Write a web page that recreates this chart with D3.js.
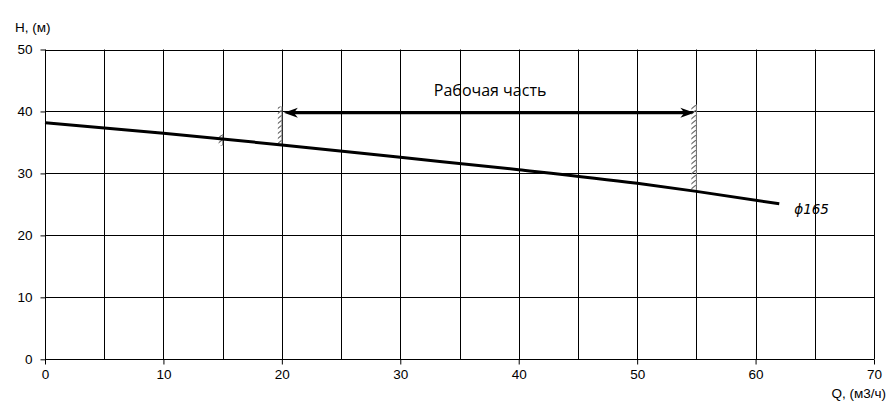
<!DOCTYPE html>
<html><head><meta charset="utf-8">
<script src="https://cdn.jsdelivr.net/npm/d3@7"></script>
<style>body{margin:0;background:#fff}svg{display:block}</style>
</head><body>
<script>
const qTicks = [0,10,20,30,40,50,60,70];
const hTicks = [0,10,20,30,40,50];
const curveQ = [0,10,20,30,40,50,55,62];
const curveH = [38.2,36.5,34.6,32.6,30.6,28.4,27.1,25.1];
const workRange = [20,55];
const workH = 39.8;
const curveLabel = "ϕ165";
const workLabel = "Рабочая часть";

const W=892,H=407;
const svg=d3.select("body").append("svg").attr("width",W).attr("height",H);
const x=d3.scaleLinear().domain([0,70]).range([45,874]);
const y=d3.scaleLinear().domain([0,50]).range([359.3,49.5]);
const g=svg.append("g");
// grid
const vg=d3.range(0,71,5), hg=hTicks;
g.selectAll(".vg").data(vg).enter().append("line")
 .attr("x1",d=>Math.round(x(d))+0.5).attr("x2",d=>Math.round(x(d))+0.5)
 .attr("y1",y(50)).attr("y2",y(0)).attr("stroke","#000").attr("stroke-width",1);
g.selectAll(".hg").data(hg).enter().append("line")
 .attr("y1",d=>Math.round(y(d))+0.5).attr("y2",d=>Math.round(y(d))+0.5)
 .attr("x1",x(0)).attr("x2",x(70)).attr("stroke","#000").attr("stroke-width",1);
// axes
const xa=svg.append("g").attr("transform",`translate(0,${Math.round(y(0))+0.5})`)
 .call(d3.axisBottom(x).tickValues(qTicks).tickSize(5).tickPadding(5));
const ya=svg.append("g").attr("transform",`translate(${Math.round(x(0))+0.5},0)`)
 .call(d3.axisLeft(y).tickValues(hTicks).tickSize(5).tickPadding(8));
[xa,ya].forEach(a=>{a.select(".domain").remove();
 a.selectAll("text").attr("font-family","Liberation Sans, Arial").attr("font-size",13.5).attr("fill","#000");
 a.selectAll("line").attr("stroke","#000");});
svg.append("text").attr("x",15).attr("y",32).text("H, (м)").attr("font-family","Liberation Sans, Arial").attr("font-size",13.5);
svg.append("text").attr("x",886).attr("y",398).attr("text-anchor","end").text("Q, (м3/ч)").attr("font-family","Liberation Sans, Arial").attr("font-size",13.5);

// hatch pattern
const defs=svg.append("defs");
const pat=defs.append("pattern").attr("id","hatch").attr("patternUnits","userSpaceOnUse").attr("width",6).attr("height",5);
pat.append("line").attr("x1",0).attr("y1",5).attr("x2",6).attr("y2",0).attr("stroke","#666").attr("stroke-width",1.1);
function hatch(q,h1,h2,wd){
 const xx=x(q);
 svg.append("rect").attr("x",xx-wd).attr("y",y(h2)).attr("width",wd).attr("height",y(h1)-y(h2)).attr("fill","url(#hatch)");
 svg.append("line").attr("x1",xx).attr("x2",xx).attr("y1",y(h2)).attr("y2",y(h1)).attr("stroke","#888").attr("stroke-width",1);
}
hatch(15,34.5,36.3,4);
hatch(20,34.6,40.8,4);
hatch(55,27.2,41.1,5);

// curve
const data=curveQ.map((q,i)=>[q,curveH[i]]);
svg.append("path").datum(data).attr("fill","none").attr("stroke","#000").attr("stroke-width",3)
 .attr("d",d3.line().x(d=>x(d[0])).y(d=>y(d[1])).curve(d3.curveMonotoneX));
svg.append("text").attr("x",x(62)+15).attr("y",y(25.1)+10).text(curveLabel)
 .attr("font-family","DejaVu Sans, Noto Sans").attr("font-style","italic").attr("font-size",13.5);

// work arrow
const ay=y(workH);
const x1=x(workRange[0])+2, x2=x(workRange[1])-2;
svg.append("line").attr("x1",x1+8).attr("x2",x2-8).attr("y1",ay).attr("y2",ay).attr("stroke","#000").attr("stroke-width",3);
svg.append("path").attr("d",`M${x1},${ay} L${x1+14},${ay-5} L${x1+10},${ay} L${x1+14},${ay+5} Z`).attr("fill","#000");
svg.append("path").attr("d",`M${x2},${ay} L${x2-14},${ay-5} L${x2-10},${ay} L${x2-14},${ay+5} Z`).attr("fill","#000");
svg.append("text").attr("x",(x(workRange[0])+x(workRange[1]))/2+1).attr("y",96).attr("text-anchor","middle")
 .text(workLabel).attr("font-family","Open Sans, Noto Sans").attr("font-size",16);
</script>
</body></html>
